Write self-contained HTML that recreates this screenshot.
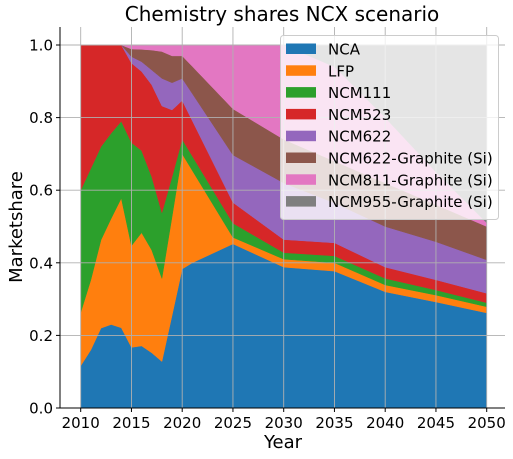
<!DOCTYPE html>
<html><head><meta charset="utf-8"><style>
html,body{margin:0;padding:0;background:#fff;}
svg{display:block;font-family:"DejaVu Sans","Liberation Sans",sans-serif;}
</style></head><body>
<svg id="chart" width="513" height="459" viewBox="0 0 513 459">
<g id="areas"></g>
<g id="grid"></g>
<g id="axes"></g>
<text x="282" y="21" font-size="20" text-anchor="middle" fill="#000">Chemistry shares NCX scenario</text>
<text x="283" y="448" font-size="18" text-anchor="middle" fill="#000">Year</text>
<text transform="translate(22,227) rotate(-90)" font-size="18" text-anchor="middle" fill="#000">Marketshare</text>
<g id="legend"></g>
</svg>
<script>
const years = [2010,2011,2012,2013,2014,2015,2016,2017,2018,2019,2020,2021,2025,2030,2035,2040,2045,2050];
const seriesNames = ["NCA","LFP","NCM111","NCM523","NCM622","NCM622-Graphite (Si)","NCM811-Graphite (Si)","NCM955-Graphite (Si)"];
const seriesColors = ["#1f77b4","#ff7f0e","#2ca02c","#d62728","#9467bd","#8c564b","#e377c2","#7f7f7f"];
const nca    = [.116,.16,.22,.23,.221,.167,.171,.152,.128,.255,.383,.40,.452,.388,.377,.32,.292,.262];
const lfp    = [.147,.193,.243,.292,.357,.28,.312,.283,.229,.272,.317,.254,.018,.022,.023,.019,.019,.017];
const ncm111 = [.337,.307,.257,.235,.212,.284,.226,.202,.181,.11,.04,.04,.039,.018,.019,.018,.014,.011];
const ncm523 = [.40,.34,.28,.243,.21,.219,.218,.253,.294,.184,.107,.097,.057,.036,.036,.031,.028,.026];
const ncm622 = [0,0,0,0,0,.018,.027,.041,.076,.075,.061,.075,.131,.156,.11,.112,.105,.092];
const ncm622g = [0,0,0,0,0,.021,.034,.055,.074,.074,.062,.075,.127,.12,.115,.12,.102,.092];
const ncm811g = [0,0,0,0,0,.011,.012,.014,.018,.03,.03,.059,.176,.26,.26,.18,.09,.01];
const ncm955g = [0,0,0,0,0,0,0,0,0,0,0,0,0,0,.06,.2,.35,.49];
const xTicks = [2010,2015,2020,2025,2030,2035,2040,2045,2050];
const yTicks = [0,0.2,0.4,0.6,0.8,1.0];
const yTickLabels = ["0.0","0.2","0.4","0.6","0.8","1.0"];

const X0=60, X1=505, YB=408;
function xs(v){ return 80.7 + (v-2010)*10.15; }
function ys(v){ return 408 - v*363; }
const NS="http://www.w3.org/2000/svg";
function mk(tag, attrs){ const e=document.createElementNS(NS,tag); for(const k in attrs) e.setAttribute(k,attrs[k]); return e; }

const all=[nca,lfp,ncm111,ncm523,ncm622,ncm622g,ncm811g,ncm955g];
const areas=document.getElementById('areas');
let base=years.map(()=>0);
all.forEach((s,si)=>{
  const top=base.map((b,i)=>b+s[i]);
  let d='M'+years.map((y,i)=>xs(y).toFixed(2)+','+ys(top[i]).toFixed(2)).join('L');
  for(let i=years.length-1;i>=0;i--) d+='L'+xs(years[i]).toFixed(2)+','+ys(base[i]).toFixed(2);
  d+='Z';
  const p=mk('path',{d:d,fill:seriesColors[si],stroke:seriesColors[si],'stroke-width':'0.5'});
  
  
  areas.appendChild(p);
  base=top;
});

const grid=document.getElementById('grid');
xTicks.forEach(t=>{
  const l=mk('line',{x1:xs(t),x2:xs(t),y1:27,y2:YB,stroke:'#b0b0b0','stroke-width':'0.9'});
  
  
  grid.appendChild(l);
});
yTicks.forEach(t=>{
  const l=mk('line',{x1:X0,x2:X1,y1:ys(t),y2:ys(t),stroke:'#b0b0b0','stroke-width':'0.9'});
  
  
  grid.appendChild(l);
});

const axes=document.getElementById('axes');
const ya=mk('line',{x1:X0,x2:X0,y1:27,y2:YB+0.5,stroke:'#000','stroke-width':'1'});


axes.appendChild(ya);
const xa=mk('line',{x1:X0-0.5,x2:X1,y1:YB,y2:YB,stroke:'#000','stroke-width':'1'});


axes.appendChild(xa);
xTicks.forEach(t=>{
  axes.appendChild(mk('line',{x1:xs(t),x2:xs(t),y1:YB,y2:YB+4,stroke:'#000'}));
  const tx=mk('text',{x:xs(t),y:428,'font-size':'15','text-anchor':'middle',fill:'#000'});
  tx.textContent=String(t);
  
  
  axes.appendChild(tx);
});
yTicks.forEach((t,i)=>{
  axes.appendChild(mk('line',{x1:X0-4,x2:X0,y1:ys(t),y2:ys(t),stroke:'#000'}));
  const tx=mk('text',{x:53,y:ys(t)+5.5,'font-size':'15','text-anchor':'end',fill:'#000'});
  tx.textContent=yTickLabels[i];
  
  
  axes.appendChild(tx);
});

const lg=document.getElementById('legend');
const box=mk('rect',{x:280.5,y:35.5,width:218,height:184,rx:3,fill:'rgba(255,255,255,0.8)',stroke:'#cccccc','stroke-width':'1'});


lg.appendChild(box);
seriesNames.forEach((n,i)=>{
  const cy=48.5+i*21.8;
  const g=mk('g',{});
  
  
  g.appendChild(mk('rect',{x:286,y:cy-5,width:30,height:10.5,fill:seriesColors[i]}));
  const t=mk('text',{x:328,y:cy+6,'font-size':'15',fill:'#000'});
  t.textContent=n;
  g.appendChild(t);
  lg.appendChild(g);
});
</script>
</body></html>
